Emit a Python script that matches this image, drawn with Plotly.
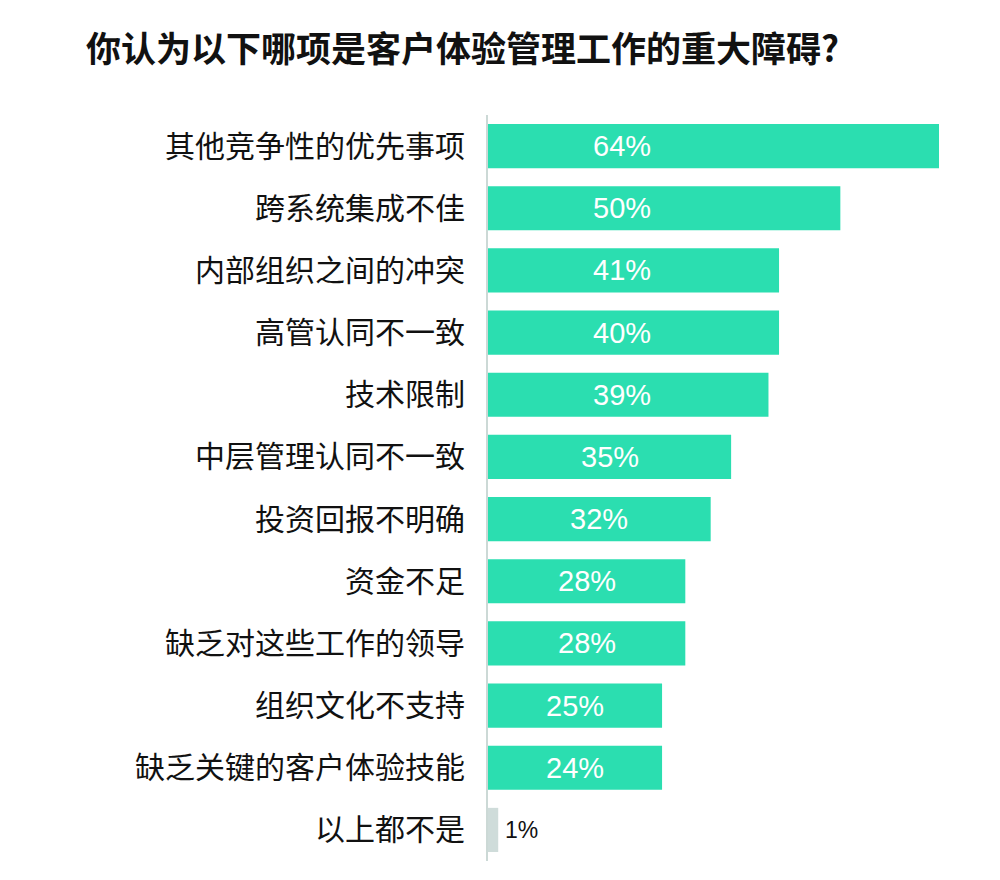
import plotly.graph_objects as go

title = "你认为以下哪项是客户体验管理工作的重大障碍?"
categories = [
    "其他竞争性的优先事项",
    "跨系统集成不佳",
    "内部组织之间的冲突",
    "高管认同不一致",
    "技术限制",
    "中层管理认同不一致",
    "投资回报不明确",
    "资金不足",
    "缺乏对这些工作的领导",
    "组织文化不支持",
    "缺乏关键的客户体验技能",
    "以上都不是",
]
values = [64, 50, 41.3, 41.3, 39.8, 34.5, 31.6, 28, 28, 24.7, 24.7, 1.45]
labels = ["64%", "50%", "41%", "40%", "39%", "35%", "32%", "28%", "28%", "25%", "24%", "1%"]

GREEN = "#2BDEB0"
GRAY = "#CFDCDA"
colors = [GREEN] * (len(values) - 1) + [GRAY]

fig = go.Figure()
fig.add_trace(go.Bar(
    x=values, y=categories, orientation="h",
    marker=dict(color=colors, line=dict(width=0)),
    width=0.71, hoverinfo="skip",
))

label_cap = 19.05
for cat, v, lab in zip(categories, values, labels):
    if v >= 5:
        fig.add_annotation(x=min(v / 2, label_cap), y=cat, text=lab, showarrow=False,
                           xanchor="center", yanchor="middle",
                           font=dict(family="Liberation Sans, Arial, sans-serif", size=29, color="white"))
    else:
        fig.add_annotation(x=v, y=cat, text=lab, showarrow=False, xanchor="left",
                           xshift=5, yanchor="middle",
                           font=dict(family="Liberation Sans, Arial, sans-serif", size=23, color="#111111"))

fig.update_layout(
    width=1000, height=880,
    margin=dict(l=488, r=61, t=115, b=19),
    paper_bgcolor="white", plot_bgcolor="white",
    showlegend=False,
    title=dict(text="<b>" + title + "</b>", x=86 / 1000, xanchor="left", xref="container",
               y=1 - 50 / 880, yanchor="middle", yref="container",
               font=dict(family="Noto Sans CJK SC", size=35, color="#111111")),
    xaxis=dict(range=[0, 64], visible=False, fixedrange=True),
    yaxis=dict(autorange="reversed", showline=True, linecolor="#CCD9D6", linewidth=2,
               showgrid=False, zeroline=False, ticks="", ticklabelstandoff=15,
               tickfont=dict(family="Noto Sans CJK SC", size=30, color="#111111"),
               fixedrange=True),
)

fig.write_html("out.html")
